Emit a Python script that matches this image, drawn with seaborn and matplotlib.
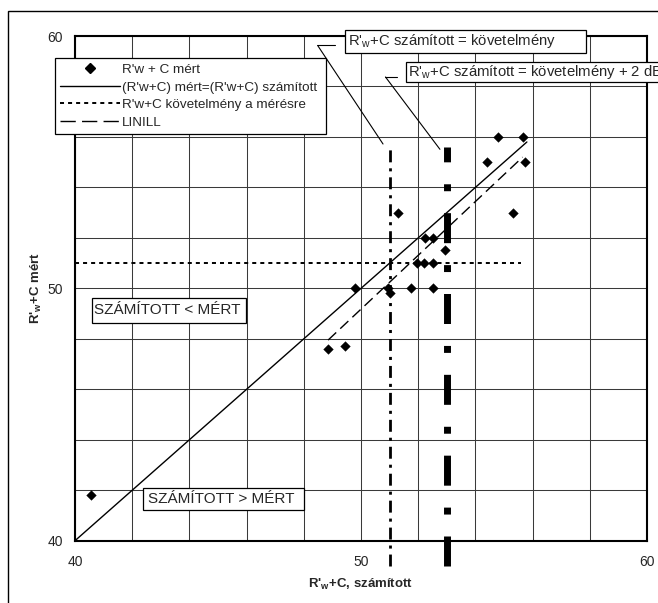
import numpy as np
import pandas as pd
import matplotlib
matplotlib.use("Agg")
import matplotlib.pyplot as plt
import seaborn as sns
from matplotlib.lines import Line2D
from matplotlib.patches import Rectangle

# R'w+C values: calculated (x) vs measured (y)
szamitott = [54.8, 55.65, 54.4, 55.75, 55.3, 51.3, 52.25, 52.5, 52.95, 51.95,
             52.2, 52.5, 49.8, 50.95, 51.0, 51.75, 52.5, 48.85, 49.45, 40.55]
mert = [56.0, 56.0, 55.0, 55.0, 53.0, 53.0, 52.0, 52.0, 51.5, 51.0,
        51.0, 51.0, 50.0, 50.0, 49.8, 50.0, 50.0, 47.6, 47.7, 41.8]

# measured = calculated reference line
egyenlo_x = [40.0, 55.8]
egyenlo_y = [40.0, 55.8]

# LINILL fitted line
linill_x = [48.85, 55.65]
linill_y = [47.95, 55.2]

# requirement for the measurement
kovetelmeny = 51.0
kov_x = [40.0, 55.6]

# vertical requirement markers: calculated = requirement, and requirement + 2 dB
kov_szamitott = 51.0
kov_plus2 = 53.0
vonal_y = [39.0, 55.6]

x_ticks = list(range(40, 61, 2))
y_ticks = list(range(40, 61, 2))
x_tick_labels = ["40", "", "", "", "", "50", "", "", "", "", "60"]
y_tick_labels = ["40", "", "", "", "", "50", "", "", "", "", "60"]

legend_labels = ["R'w + C mért", "(R'w+C) mért=(R'w+C) számított",
                 "R'w+C követelmény a mérésre", "LINILL"]

sns.set_style("white")
plt.rcParams["font.family"] = ["Liberation Sans", "DejaVu Sans"]
plt.rcParams["mathtext.fontset"] = "custom"
plt.rcParams["mathtext.rm"] = "Liberation Sans"
plt.rcParams["mathtext.it"] = "Liberation Sans:italic"
plt.rcParams["mathtext.bf"] = "Liberation Sans:bold"
# dash patterns below are given directly in points
plt.rcParams["lines.scale_dashes"] = False

W, H = 658, 603
fig = plt.figure(figsize=(W / 100, H / 100), dpi=100)
fig.patch.set_facecolor("white")
ax = fig.add_axes([75 / W, 1 - 540.7 / H, 572 / W, 504.7 / H])
ax.set_facecolor("white")

ax.set_xlim(40, 60)
ax.set_ylim(40, 60)
ax.set_xticks(x_ticks)
ax.set_yticks(y_ticks)
ax.set_xticklabels(x_tick_labels, fontsize=10)
ax.set_yticklabels(y_tick_labels, fontsize=10)
ax.grid(True, color="#3a3a3a", lw=0.75, zorder=0)
ax.set_axisbelow(True)
ax.tick_params(direction="inout", length=5, width=1, color="black", pad=6)
ax.tick_params(axis="x", pad=8)
for side, sp in ax.spines.items():
    sp.set_color("black")
    sp.set_linewidth(1.5)

dotted = (2.9, 2.9)
dashed = (8.0, 4.0)

# dotted requirement line
ax.plot(kov_x, [kovetelmeny, kovetelmeny], color="black", lw=1.4,
        dashes=dotted, dash_capstyle="butt", zorder=3)

# measured = calculated
sns.lineplot(x=egyenlo_x, y=egyenlo_y, ax=ax, color="black", lw=1.0,
             sort=False, zorder=3)

# LINILL
ax.plot(linill_x, linill_y, color="black", lw=1.0, dashes=dashed,
        dash_capstyle="butt", zorder=3)

# vertical dash-dot markers (drawn from the bottom up, past the axis)
ax.plot([kov_szamitott, kov_szamitott], vonal_y, color="black", lw=2.0,
        dashes=(8.6, 4.3, 2.2, 4.3), dash_capstyle="butt",
        solid_capstyle="butt", clip_on=False, zorder=4)
ax.plot([kov_plus2, kov_plus2], vonal_y, color="black", lw=5.0,
        dashes=(21.6, 15.8, 5.0, 15.8), dash_capstyle="butt",
        solid_capstyle="butt", clip_on=False, zorder=4)

# measured points
df = pd.DataFrame({"szamitott": szamitott, "mert": mert})
sns.scatterplot(data=df, x="szamitott", y="mert", ax=ax, marker="D", s=24,
                color="black", edgecolor="black", linewidth=0.3, zorder=5,
                clip_on=False, legend=False)

ax.set_xlabel(r"R'$_\mathbf{w}$+C, számított", fontsize=9.5, fontweight="bold")
ax.set_ylabel(r"R'$_\mathbf{w}$+C mért", fontsize=9.5, fontweight="bold")
ax.xaxis.label.set_va("center")
ax.yaxis.label.set_va("center")
ax.xaxis.set_label_coords(0.5, -(584 - 540.7) / 504.7)
ax.yaxis.set_label_coords((36 - 75) / 572, 0.5)

handles = [
    Line2D([], [], marker="D", ls="none", color="black", ms=4.8),
    Line2D([], [], color="black", lw=1.0),
    Line2D([], [], color="black", lw=1.4, dashes=dotted, dash_capstyle="butt"),
    Line2D([], [], color="black", lw=1.0, dashes=(11.0, 4.5), dash_capstyle="butt"),
]
leg = ax.legend(handles, legend_labels, loc="upper left",
                bbox_to_anchor=(55 / W, 1 - 64.3 / H, (326 - 55) / W, 0.01),
                bbox_transform=fig.transFigure, mode="expand",
                fontsize=9.7, frameon=True, fancybox=False, framealpha=1,
                edgecolor="black", borderpad=0.4, borderaxespad=0,
                handlelength=4.4, handletextpad=0.15, labelspacing=0.38,
                markerscale=1.0)
leg.get_frame().set_linewidth(0.9)
leg.set_zorder(10)


def box_text(x0, y0, x1, y1, text, tx, size):
    fig.add_artist(Rectangle((x0 / W, 1 - y1 / H), (x1 - x0) / W, (y1 - y0) / H,
                             transform=fig.transFigure, facecolor="white",
                             edgecolor="black", lw=0.9, zorder=6))
    fig.text(tx / W, 1 - ((y0 + y1) / 2) / H, text, ha="left", va="center",
             fontsize=size, zorder=7)


box_text(345, 29.5, 585.5, 53.3, r"R'$_\mathrm{w}$+C számított = követelmény", 348, 10.7)
box_text(406, 61.7, 720, 82, r"R'$_\mathrm{w}$+C számított = követelmény + 2 dB", 408.5, 10.7)
box_text(91.7, 298.3, 245.7, 322.7, "SZÁMÍTOTT < MÉRT", 94.3, 11)
box_text(143.3, 488.3, 304, 510, "SZÁMÍTOTT > MÉRT", 148.3, 11)

# callout leaders pointing at the tops of the vertical markers
lead_style = dict(arrowstyle="-", lw=0.8, color="black", shrinkA=0, shrinkB=0)
ax.annotate("", xy=(50.77, 55.72), xycoords="data", xytext=(318, H - 46),
            textcoords="figure pixels", arrowprops=lead_style, zorder=6)
ax.annotate("", xy=(52.76, 55.51), xycoords="data", xytext=(385.5, H - 77),
            textcoords="figure pixels", arrowprops=lead_style, zorder=6)
fig.add_artist(Line2D([316.7 / W, 335 / W], [1 - 45 / H, 1 - 45 / H],
                      transform=fig.transFigure, color="black", lw=0.8))
fig.add_artist(Line2D([385 / W, 396.7 / W], [1 - 76.7 / H, 1 - 76.7 / H],
                      transform=fig.transFigure, color="black", lw=0.8))

# outer frame of the chart area
fig.add_artist(Rectangle((8 / W, -0.5), 2, 1 - 10.7 / H + 0.5,
                         transform=fig.transFigure, fill=False,
                         edgecolor="black", lw=1.0, zorder=1))

fig.savefig("out.png", dpi=100, facecolor="white")
